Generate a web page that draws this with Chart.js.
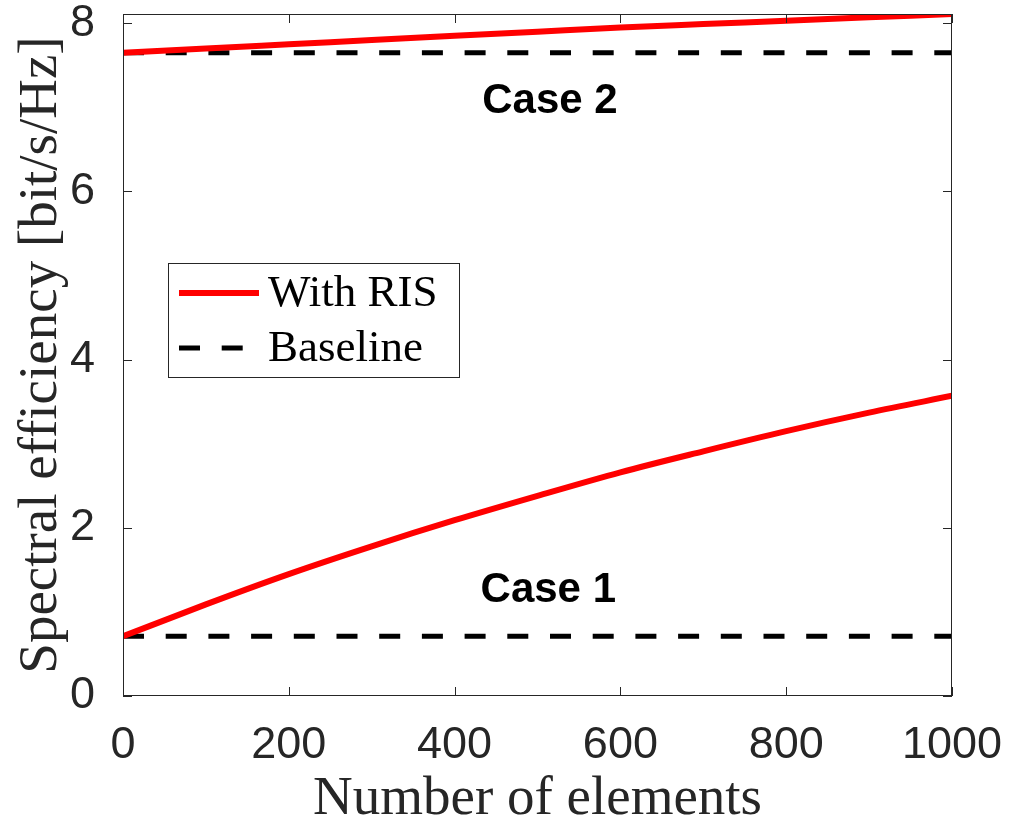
<!DOCTYPE html>
<html>
<head>
<meta charset="utf-8">
<script src="https://cdn.jsdelivr.net/npm/chart.js@4"></script>
<style>
  body { margin: 0; background: #fff; }
  #wrap { width: 1010px; height: 820px; }
</style>
</head>
<body>
<div id="wrap"><canvas id="chart" width="1010" height="820"></canvas></div>
<script>
// values
const elements = [0, 100, 200, 300, 400, 500, 600, 700, 800, 900, 1000]
const risCase1 = [0.71, 1.09, 1.45, 1.78, 2.09, 2.38, 2.66, 2.91, 3.15, 3.37, 3.57]
const risCase2 = [7.65, 7.70, 7.75, 7.80, 7.85, 7.90, 7.95, 7.99, 8.03, 8.07, 8.11]
const baseCase1 = [0.71, 0.71, 0.71, 0.71, 0.71, 0.71, 0.71, 0.71, 0.71, 0.71, 0.71]
const baseCase2 = [7.65, 7.65, 7.65, 7.65, 7.65, 7.65, 7.65, 7.65, 7.65, 7.65, 7.65]
const xTicks = [0, 200, 400, 600, 800, 1000]
const yTicks = [0, 2, 4, 6, 8]
const caseLabels = [
  { text: 'Case 2', x: 515, y: 6.93 },
  { text: 'Case 1', x: 513, y: 1.12 }
]

const axisColor = '#262626'
const toXY = (ys) => ys.map((v, i) => ({ x: elements[i], y: v }))

// frame with inward ticks on all four sides + case labels
const framePlugin = {
  id: 'frame',
  afterDatasetsDraw(chart) {
    const { ctx, chartArea: a, scales: { x, y } } = chart
    ctx.save()
    ctx.strokeStyle = axisColor
    ctx.lineWidth = 1
    ctx.strokeRect(a.left + 0.5, a.top + 0.5, a.right - a.left - 1, a.bottom - a.top - 1)
    ctx.beginPath()
    xTicks.forEach(v => {
      const px = Math.round(x.getPixelForValue(v)) + 0.5
      ctx.moveTo(px, a.bottom); ctx.lineTo(px, a.bottom - 9)
      ctx.moveTo(px, a.top); ctx.lineTo(px, a.top + 9)
    })
    yTicks.forEach(v => {
      const py = Math.round(y.getPixelForValue(v)) + 0.5
      ctx.moveTo(a.left, py); ctx.lineTo(a.left + 9, py)
      ctx.moveTo(a.right, py); ctx.lineTo(a.right - 9, py)
    })
    ctx.stroke()

    ctx.fillStyle = '#000'
    ctx.font = 'bold 42px "Liberation Sans", Arial, sans-serif'
    ctx.textAlign = 'center'
    ctx.textBaseline = 'alphabetic'
    caseLabels.forEach(c => {
      ctx.fillText(c.text, x.getPixelForValue(c.x), y.getPixelForValue(c.y))
    })
    ctx.restore()
  },
  afterDraw(chart) {
    // legend box
    const { ctx } = chart
    const ds = chart.data.datasets
    const items = [ds[0], ds[2]]
    ctx.save()
    ctx.fillStyle = '#fff'
    ctx.fillRect(168, 263, 292, 115)
    ctx.strokeStyle = axisColor
    ctx.lineWidth = 1
    ctx.strokeRect(168.5, 263.5, 291, 114)
    items.forEach((d, i) => {
      const ly = 293 + i * 55
      ctx.beginPath()
      ctx.strokeStyle = d.borderColor
      ctx.lineWidth = d.borderWidth
      ctx.setLineDash(d.borderDash || [])
      ctx.moveTo(179, ly)
      ctx.lineTo(d.borderDash ? 243 : 259, ly)
      ctx.stroke()
      ctx.setLineDash([])
      ctx.fillStyle = '#000'
      ctx.font = '45px "Liberation Serif", "Times New Roman", serif'
      ctx.textAlign = 'left'
      ctx.textBaseline = 'alphabetic'
      ctx.fillText(d.label, 268, ly + 13)
    })
    ctx.restore()
  }
}

new Chart(document.querySelector('#chart').getContext('2d'), {
  type: 'line',
  data: {
    datasets: [
      { label: 'With RIS', data: toXY(risCase1), borderColor: '#ff0000', borderWidth: 6, pointRadius: 0, cubicInterpolationMode: 'monotone', order: 0 },
      { label: 'With RIS', data: toXY(risCase2), borderColor: '#ff0000', borderWidth: 6, pointRadius: 0, cubicInterpolationMode: 'monotone', order: 0 },
      { label: 'Baseline', data: toXY(baseCase1), borderColor: '#000000', borderWidth: 5, borderDash: [21, 21.7], pointRadius: 0, order: 1 },
      { label: 'Baseline', data: toXY(baseCase2), borderColor: '#000000', borderWidth: 5, borderDash: [21, 21.7], pointRadius: 0, order: 1 }
    ]
  },
  options: {
    responsive: false,
    animation: false,
    layout: { padding: { top: 14, right: 58, left: 0, bottom: 0 } },
    plugins: { legend: { display: false }, tooltip: { enabled: false } },
    scales: {
      x: {
        type: 'linear',
        min: 0,
        max: 1000,
        afterFit: (s) => { s.height = 124; s.paddingLeft = 0; s.paddingRight = 0 },
        afterBuildTicks: (s) => { s.ticks = xTicks.map(v => ({ value: v })) },
        grid: { display: false },
        border: { display: false },
        ticks: {
          color: axisColor, padding: 15, maxRotation: 0,
          callback: (v) => String(v),
          font: { family: '"Liberation Sans", Arial, sans-serif', size: 45 }
        },
        title: {
          display: true,
          text: 'Number of elements',
          color: axisColor,
          padding: { top: 0, bottom: 0 },
          font: { family: '"Liberation Serif", "Times New Roman", serif', size: 55, lineHeight: 0.75 }
        }
      },
      y: {
        min: 0,
        max: 8.11,
        afterFit: (s) => { s.width = 123; s.paddingTop = 0; s.paddingBottom = 0 },
        afterBuildTicks: (s) => { s.ticks = yTicks.map(v => ({ value: v })) },
        grid: { display: false },
        border: { display: false },
        ticks: {
          color: axisColor, padding: 20,
          callback: (v) => String(v),
          font: { family: '"Liberation Sans", Arial, sans-serif', size: 45 }
        },
        title: {
          display: true,
          text: 'Spectral efficiency [bit/s/Hz]',
          color: axisColor,
          padding: { top: 14, bottom: 0 },
          font: { family: '"Liberation Serif", "Times New Roman", serif', size: 55, lineHeight: 1 }
        }
      }
    }
  },
  plugins: [framePlugin]
})
</script>
</body>
</html>
